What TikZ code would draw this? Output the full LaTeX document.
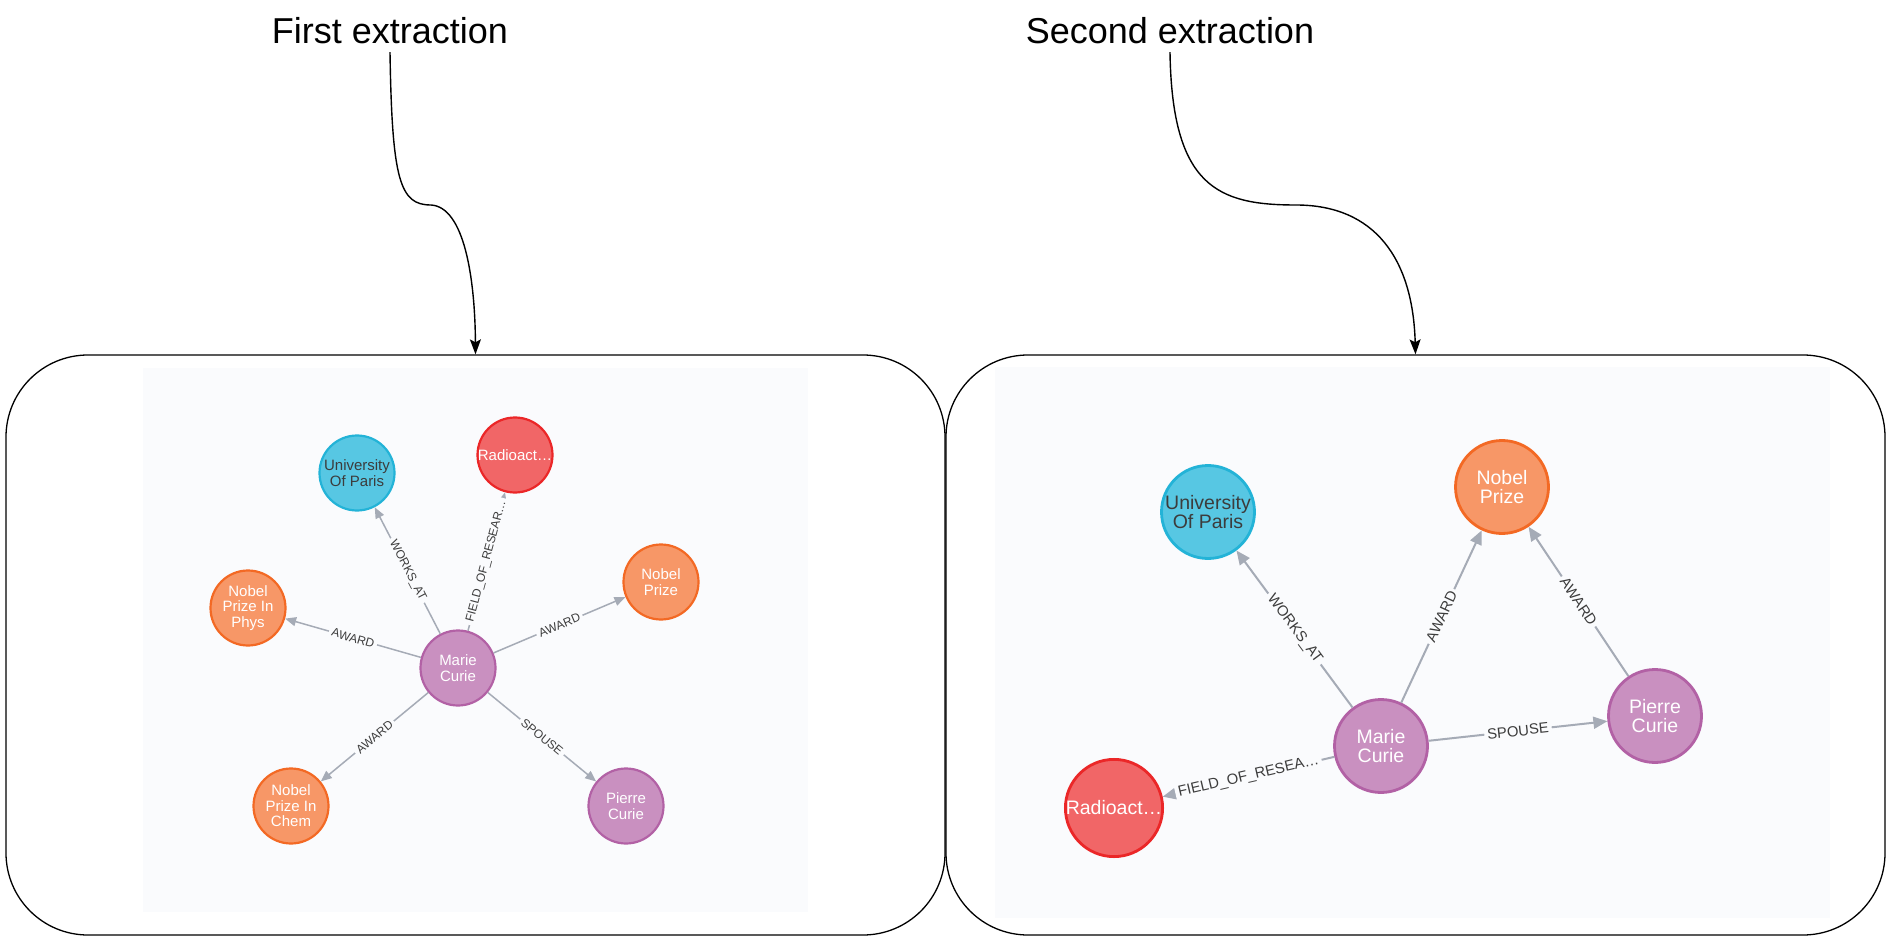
\documentclass[tikz,border=0pt]{standalone}
\usepackage{fontspec}
\setmainfont{Liberation Sans}
\usetikzlibrary{arrows.meta}

\definecolor{panelbg}{HTML}{FAFBFD}
\definecolor{relgray}{HTML}{A5ABB6}
\definecolor{labelgray}{HTML}{3C3C3C}
\definecolor{personfill}{HTML}{C990C0}
\definecolor{personline}{HTML}{B261A5}
\definecolor{awardfill}{HTML}{F79767}
\definecolor{awardline}{HTML}{F36924}
\definecolor{sitefill}{HTML}{57C7E3}
\definecolor{siteline}{HTML}{23B3D7}
\definecolor{topicfill}{HTML}{F16667}
\definecolor{topicline}{HTML}{EB2728}

\tikzset{
  entity/.style={circle, inner sep=0pt, align=center, text=white},
  person/.style={entity, draw=personline, fill=personfill},
  award/.style={entity, draw=awardline, fill=awardfill},
  site/.style={entity, draw=siteline, fill=sitefill, text=labelgray},
  topic/.style={entity, draw=topicline, fill=topicfill},
  smallnode/.style={minimum size=75pt, line width=2.2pt, font=\fontsize{15}{15.4}\selectfont},
  bignode/.style={minimum size=93pt, line width=2.8pt, font=\fontsize{19.5}{19.5}\selectfont},
  rel/.style={draw=relgray, line width=1.5pt, -{Triangle[length=11pt, width=9pt]}},
  bigrel/.style={draw=relgray, line width=2pt, -{Triangle[length=14pt, width=12pt]}},
  rellabel/.style={sloped, fill=panelbg, inner sep=3pt, text=labelgray, font=\fontsize{12}{12}\selectfont},
  bigrellabel/.style={rellabel, font=\fontsize{14.8}{14.8}\selectfont},
  panelframe/.style={draw, line width=1.3pt, rounded corners=82pt, minimum width=939pt, minimum height=580pt},
  heading/.style={font=\fontsize{36}{40}\selectfont, inner sep=2pt, outer sep=6pt},
  flow/.style={line width=1.4pt, -{Stealth[length=15pt, width=11pt, inset=3pt]}}
}

\begin{document}
\begin{tikzpicture}[x=1pt, y=-1pt]
  \useasboundingbox (0, 0) rectangle (1891, 941);

  \fill [panelbg] (143, 368) rectangle (808, 912);
  \fill [panelbg] (995, 367) rectangle (1830, 918);

  \node [panelframe] (box1) at (475.5, 645) {};
  \node [panelframe] (box2) at (1415.5, 645) {};

  \node [heading] (first) at (390, 31) {First extraction};
  \node [heading] (second) at (1170, 31) {Second extraction};

  \draw [flow] (first.south) .. controls (392, 181) and (400, 205) .. (431, 205)
    .. controls (464, 207) and (475, 277) .. (box1.north);
  \draw [flow] (second.south) .. controls (1172, 187) and (1218, 205) .. (1296, 205)
    .. controls (1375, 205) and (1413, 259) .. (box2.north);

  % first extraction
  \node [site, smallnode] (paris1) at (357, 473) {University\\Of Paris};
  \node [topic, smallnode] (radio1) at (515, 455) {Radioact…};
  \node [award, smallnode] (nobel1) at (661, 582) {Nobel\\Prize};
  \node [award, smallnode] (phys1) at (248, 608) {Nobel\\Prize In\\Phys};
  \node [person, smallnode] (marie1) at (458, 668) {Marie\\Curie};
  \node [award, smallnode] (chem1) at (291, 806) {Nobel\\Prize In\\Chem};
  \node [person, smallnode] (pierre1) at (626, 806) {Pierre\\Curie};

  \draw [rel] (marie1) -- node [rellabel] {WORKS\_AT} (paris1);
  \draw [rel] (marie1) -- node [rellabel] {FIELD\_OF\_RESEAR…} (radio1);
  \draw [rel] (marie1) -- node [rellabel] {AWARD} (nobel1);
  \draw [rel] (marie1) -- node [rellabel] {AWARD} (phys1);
  \draw [rel] (marie1) -- node [rellabel] {AWARD} (chem1);
  \draw [rel] (marie1) -- node [rellabel] {SPOUSE} (pierre1);

  % second extraction
  \node [site, bignode] (paris2) at (1208, 512) {University\\Of Paris};
  \node [award, bignode] (nobel2) at (1502, 487) {Nobel\\Prize};
  \node [person, bignode] (marie2) at (1381, 746) {Marie\\Curie};
  \node [person, bignode] (pierre2) at (1655, 716) {Pierre\\Curie};
  \node [topic, bignode] (radio2) at (1114, 808) {Radioact…};

  \draw [bigrel] (marie2) -- node [bigrellabel] {WORKS\_AT} (paris2);
  \draw [bigrel] (marie2) -- node [bigrellabel] {AWARD} (nobel2);
  \draw [bigrel] (pierre2) -- node [bigrellabel] {AWARD} (nobel2);
  \draw [bigrel] (marie2) -- node [bigrellabel] {SPOUSE} (pierre2);
  \draw [bigrel] (marie2) -- node [bigrellabel] {FIELD\_OF\_RESEA…} (radio2);
\end{tikzpicture}
\end{document}
